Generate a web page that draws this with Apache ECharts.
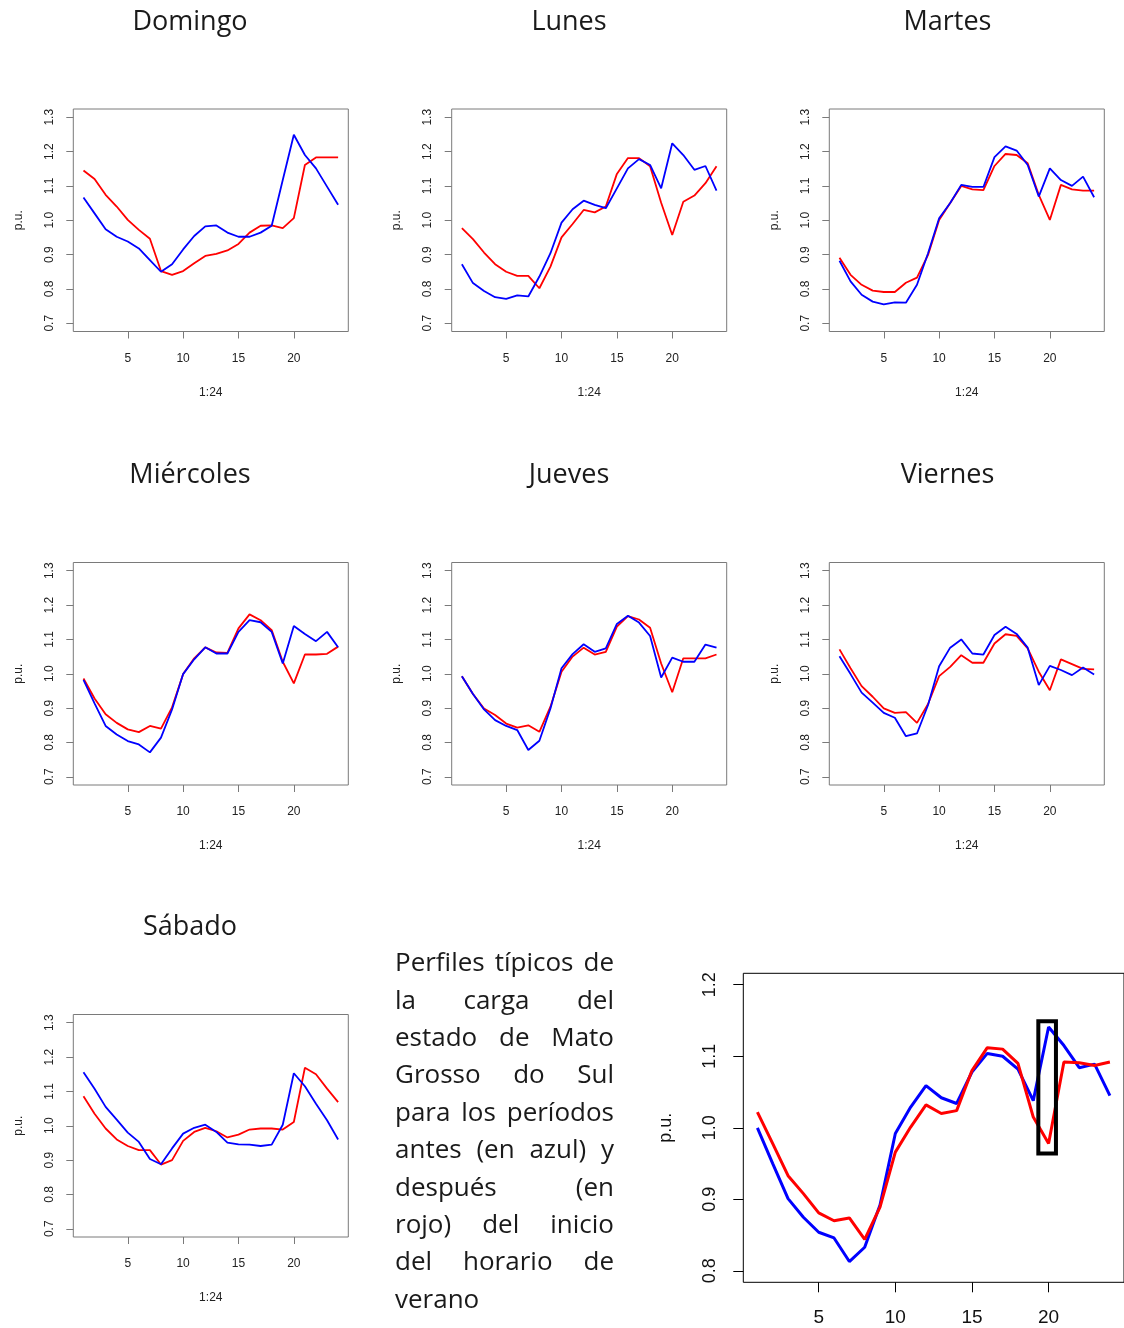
<!DOCTYPE html>
<html>
<head>
<meta charset="utf-8">
<script src="https://cdn.jsdelivr.net/npm/echarts@6/dist/echarts.min.js"></script>
<style>
  html, body { margin: 0; padding: 0; background: #ffffff; }
  #chart { width: 1124px; height: 1328px; }
</style>
</head>
<body>
<div id="chart"></div>
<script>
// Hour of the day (1:24)
const hours = [1, 2, 3, 4, 5, 6, 7, 8, 9, 10, 11, 12, 13, 14, 15, 16, 17, 18, 19, 20, 21, 22, 23, 24];

// Axis tick values
const xTicks = [5, 10, 15, 20];
const yTicks = [0.7, 0.8, 0.9, 1.0, 1.1, 1.2, 1.3];
const bigYTicks = [0.8, 0.9, 1.0, 1.1, 1.2];

// Day titles
const dayNames = ['Domingo', 'Lunes', 'Martes', 'Miércoles', 'Jueves', 'Viernes', 'Sábado'];

// Load profiles in p.u.: "antes" (blue) and "despues" (red) of daylight saving time
const domingoAntes   = [1.066, 1.020, 0.974, 0.952, 0.938, 0.918, 0.884, 0.850, 0.872, 0.915, 0.954, 0.982, 0.985, 0.964, 0.952, 0.952, 0.964, 0.984, 1.117, 1.249, 1.190, 1.151, 1.098, 1.045];
const domingoDespues = [1.145, 1.120, 1.074, 1.040, 1.001, 0.972, 0.946, 0.852, 0.841, 0.852, 0.875, 0.896, 0.902, 0.912, 0.931, 0.964, 0.984, 0.985, 0.977, 1.006, 1.161, 1.183, 1.183, 1.183];

const lunesAntes   = [0.872, 0.817, 0.794, 0.776, 0.771, 0.781, 0.778, 0.836, 0.904, 0.993, 1.032, 1.057, 1.045, 1.035, 1.093, 1.151, 1.178, 1.161, 1.093, 1.224, 1.190, 1.147, 1.158, 1.086];
const lunesDespues = [0.977, 0.945, 0.906, 0.872, 0.850, 0.838, 0.838, 0.802, 0.865, 0.950, 0.989, 1.030, 1.023, 1.040, 1.135, 1.181, 1.181, 1.157, 1.051, 0.957, 1.054, 1.072, 1.108, 1.157];

const martesAntes   = [0.882, 0.822, 0.783, 0.763, 0.755, 0.761, 0.760, 0.812, 0.904, 1.006, 1.050, 1.103, 1.097, 1.097, 1.184, 1.215, 1.203, 1.161, 1.069, 1.151, 1.117, 1.100, 1.127, 1.067];
const martesDespues = [0.891, 0.841, 0.812, 0.795, 0.791, 0.791, 0.818, 0.833, 0.899, 1.001, 1.050, 1.100, 1.090, 1.088, 1.158, 1.193, 1.190, 1.166, 1.074, 1.001, 1.103, 1.090, 1.086, 1.086];

const miercolesAntes   = [0.982, 0.914, 0.848, 0.823, 0.804, 0.794, 0.771, 0.814, 0.896, 0.999, 1.042, 1.077, 1.059, 1.059, 1.122, 1.156, 1.150, 1.122, 1.030, 1.139, 1.116, 1.095, 1.122, 1.077];
const miercolesDespues = [0.986, 0.928, 0.882, 0.857, 0.838, 0.830, 0.848, 0.840, 0.902, 0.999, 1.045, 1.077, 1.062, 1.061, 1.132, 1.173, 1.156, 1.127, 1.035, 0.972, 1.056, 1.056, 1.058, 1.079];

const juevesAntes   = [0.993, 0.941, 0.896, 0.865, 0.848, 0.836, 0.778, 0.805, 0.899, 1.016, 1.057, 1.086, 1.064, 1.074, 1.145, 1.169, 1.149, 1.110, 0.989, 1.047, 1.035, 1.035, 1.085, 1.076];
const juevesDespues = [0.993, 0.941, 0.899, 0.880, 0.855, 0.843, 0.850, 0.831, 0.904, 1.006, 1.050, 1.076, 1.056, 1.064, 1.137, 1.168, 1.158, 1.134, 1.030, 0.946, 1.045, 1.045, 1.045, 1.056];

const viernesAntes   = [1.051, 0.999, 0.945, 0.916, 0.886, 0.872, 0.818, 0.826, 0.909, 1.022, 1.076, 1.100, 1.059, 1.056, 1.113, 1.137, 1.116, 1.076, 0.967, 1.023, 1.011, 0.996, 1.018, 0.998];
const viernesDespues = [1.071, 1.016, 0.964, 0.933, 0.899, 0.886, 0.888, 0.857, 0.912, 0.993, 1.020, 1.054, 1.032, 1.032, 1.088, 1.115, 1.110, 1.074, 1.006, 0.952, 1.042, 1.028, 1.014, 1.013];

const sabadoAntes   = [1.156, 1.108, 1.055, 1.018, 0.980, 0.953, 0.903, 0.888, 0.934, 0.977, 0.994, 1.003, 0.982, 0.951, 0.946, 0.945, 0.941, 0.945, 1.003, 1.153, 1.115, 1.064, 1.016, 0.960];
const sabadoDespues = [1.086, 1.035, 0.992, 0.960, 0.941, 0.929, 0.929, 0.887, 0.900, 0.956, 0.982, 0.994, 0.984, 0.966, 0.974, 0.989, 0.992, 0.992, 0.989, 1.011, 1.169, 1.150, 1.108, 1.069];

// Aggregate profile (large chart)
const promedioAntes   = [1.000, 0.950, 0.901, 0.875, 0.854, 0.846, 0.813, 0.833, 0.892, 0.992, 1.029, 1.059, 1.042, 1.034, 1.078, 1.104, 1.100, 1.082, 1.038, 1.141, 1.115, 1.084, 1.089, 1.045];
const promedioDespues = [1.022, 0.978, 0.933, 0.908, 0.881, 0.870, 0.874, 0.844, 0.889, 0.966, 1.001, 1.032, 1.020, 1.024, 1.080, 1.112, 1.110, 1.090, 1.015, 0.978, 1.092, 1.091, 1.087, 1.092];

// Highlighted hour 20 window: [x1, y1, x2, y2] in data units
const recuadroHora20 = [19.33, 1.149, 20.48, 0.964];

// Caption lines
const notaLineas = [
  'Perfiles típicos de',
  'la carga del',
  'estado de Mato',
  'Grosso do Sul',
  'para los períodos',
  'antes (en azul) y',
  'después (en',
  'rojo) del inicio',
  'del horario de',
  'verano'
];

const perfilesAntes   = [domingoAntes, lunesAntes, martesAntes, miercolesAntes, juevesAntes, viernesAntes, sabadoAntes];
const perfilesDespues = [domingoDespues, lunesDespues, martesDespues, miercolesDespues, juevesDespues, viernesDespues, sabadoDespues];

// ---- layout ----
const AXIS_FONT = '"Liberation Sans", Arial, sans-serif';
const TITLE_FONT = '"Open Sans", "Noto Sans", sans-serif';
const BLUE = '#0000ff';
const RED = '#ff0000';
const BOX = '#7a7a7a';

const colLeft = [73.3, 451.7, 829.3];
const rowTop = [109, 562.5, 1014.5];
const colTitleX = [190, 569, 947.5];
const rowTitleY = [22, 475, 927];
const PW = 275, PH = 222.5;

// R-style 4% padding around the plotted range
const pad = (lo, hi) => [lo - 0.04 * (hi - lo), hi + 0.04 * (hi - lo)];
const xRange = pad(hours[0], hours[hours.length - 1]);
const yRange = pad(yTicks[0], yTicks[yTicks.length - 1]);
const bigYRange = pad(bigYTicks[0], bigYTicks[bigYTicks.length - 1]);

const grids = [], xAxes = [], yAxes = [], series = [], graphics = [];

const toPairs = (vals) => hours.map((h, k) => [h, vals[k]]);

dayNames.forEach((name, i) => {
  const col = i % 3, row = Math.floor(i / 3);
  grids.push({
    left: colLeft[col], top: rowTop[row], width: PW, height: PH,
    show: true, borderColor: BOX, borderWidth: 1, backgroundColor: 'transparent'
  });
  xAxes.push({
    gridIndex: i, type: 'value', min: xRange[0], max: xRange[1],
    axisLine: { show: false }, splitLine: { show: false },
    axisTick: { show: true, customValues: xTicks, length: 7, lineStyle: { color: BOX, width: 1 } },
    axisLabel: { customValues: xTicks, fontSize: 12, fontFamily: AXIS_FONT, color: '#222', margin: 21 },
    name: '1:24', nameLocation: 'middle', nameGap: 55,
    nameTextStyle: { fontSize: 12, fontFamily: AXIS_FONT, color: '#222' }
  });
  yAxes.push({
    gridIndex: i, type: 'value', min: yRange[0], max: yRange[1],
    axisLine: { show: false }, splitLine: { show: false },
    axisTick: { show: true, customValues: yTicks, length: 7, lineStyle: { color: BOX, width: 1 } },
    axisLabel: {
      customValues: yTicks, rotate: 90, fontSize: 12, fontFamily: AXIS_FONT, color: '#222', margin: 18,
      formatter: (v) => Number(v).toFixed(1)
    },
    name: 'p.u.', nameLocation: 'middle', nameRotate: 90, nameGap: 49,
    nameTextStyle: { fontSize: 12, fontFamily: AXIS_FONT, color: '#222' }
  });
  series.push({
    type: 'line', xAxisIndex: i, yAxisIndex: i, data: toPairs(perfilesDespues[i]),
    symbol: 'none', silent: true, animation: false, z: 2,
    lineStyle: { color: RED, width: 1.8 }, itemStyle: { color: RED }
  });
  series.push({
    type: 'line', xAxisIndex: i, yAxisIndex: i, data: toPairs(perfilesAntes[i]),
    symbol: 'none', silent: true, animation: false, z: 3,
    lineStyle: { color: BLUE, width: 1.8 }, itemStyle: { color: BLUE }
  });
  graphics.push({
    type: 'text', x: colTitleX[col], y: rowTitleY[row], silent: true,
    style: { text: name, font: '27px ' + TITLE_FONT, fill: '#1a1a1a', align: 'center', verticalAlign: 'middle' }
  });
});

// Large summary chart
const B = dayNames.length;
grids.push({
  left: 743.3, top: 973.3, width: 382, height: 309,
  show: true, borderColor: '#000', borderWidth: 1, backgroundColor: 'transparent'
});
xAxes.push({
  gridIndex: B, type: 'value', min: xRange[0], max: xRange[1],
  axisLine: { show: false }, splitLine: { show: false },
  axisTick: { show: true, customValues: xTicks, length: 10, lineStyle: { color: '#000', width: 1 } },
  axisLabel: { customValues: xTicks, fontSize: 19, fontFamily: AXIS_FONT, color: '#111', margin: 26 }
});
yAxes.push({
  gridIndex: B, type: 'value', min: bigYRange[0], max: bigYRange[1],
  axisLine: { show: false }, splitLine: { show: false },
  axisTick: { show: true, customValues: bigYTicks, length: 10, lineStyle: { color: '#000', width: 1 } },
  axisLabel: {
    customValues: bigYTicks, rotate: 90, fontSize: 18, fontFamily: AXIS_FONT, color: '#111', margin: 24,
    formatter: (v) => Number(v).toFixed(1)
  },
  name: 'p.u.', nameLocation: 'middle', nameRotate: 90, nameGap: 68,
  nameTextStyle: { fontSize: 18, fontFamily: AXIS_FONT, color: '#111' }
});
series.push({
  type: 'line', xAxisIndex: B, yAxisIndex: B, data: toPairs(promedioAntes),
  symbol: 'none', silent: true, animation: false, z: 2,
  lineStyle: { color: BLUE, width: 3 }, itemStyle: { color: BLUE }
});
series.push({
  type: 'line', xAxisIndex: B, yAxisIndex: B, data: toPairs(promedioDespues),
  symbol: 'none', silent: true, animation: false, z: 3,
  lineStyle: { color: RED, width: 3 }, itemStyle: { color: RED }
});
series.push({
  type: 'custom', xAxisIndex: B, yAxisIndex: B, silent: true, animation: false, z: 5,
  data: [recuadroHora20],
  renderItem: (params, api) => {
    const p1 = api.coord([api.value(0), api.value(1)]);
    const p2 = api.coord([api.value(2), api.value(3)]);
    return {
      type: 'rect',
      shape: { x: p1[0], y: p1[1], width: p2[0] - p1[0], height: p2[1] - p1[1] },
      style: { fill: null, stroke: '#000', lineWidth: 4 }
    };
  }
});

// Justified caption block
(function () {
  const font = '26px ' + TITLE_FONT;
  const ctx = document.createElement('canvas').getContext('2d');
  ctx.font = font;
  const left = 395, width = 219, firstY = 964, lineH = 37.35;
  notaLineas.forEach((line, li) => {
    const words = line.split(' ');
    const y = firstY + li * lineH;
    if (li === notaLineas.length - 1 || words.length === 1) {
      graphics.push({ type: 'text', x: left, y, silent: true,
        style: { text: line, font, fill: '#1a1a1a', align: 'left', verticalAlign: 'middle' } });
      return;
    }
    const widths = words.map((w) => ctx.measureText(w).width);
    const total = widths.reduce((a, b) => a + b, 0);
    const gap = (width - total) / (words.length - 1);
    let x = left;
    words.forEach((w, k) => {
      graphics.push({ type: 'text', x, y, silent: true,
        style: { text: w, font, fill: '#1a1a1a', align: 'left', verticalAlign: 'middle' } });
      x += widths[k] + gap;
    });
  });
})();

const chart = echarts.init(document.getElementById('chart'), null, { renderer: 'canvas', width: 1124, height: 1328 });
chart.setOption({
  backgroundColor: '#ffffff',
  animation: false,
  grid: grids,
  xAxis: xAxes,
  yAxis: yAxes,
  series: series,
  graphic: graphics
});
</script>
</body>
</html>
